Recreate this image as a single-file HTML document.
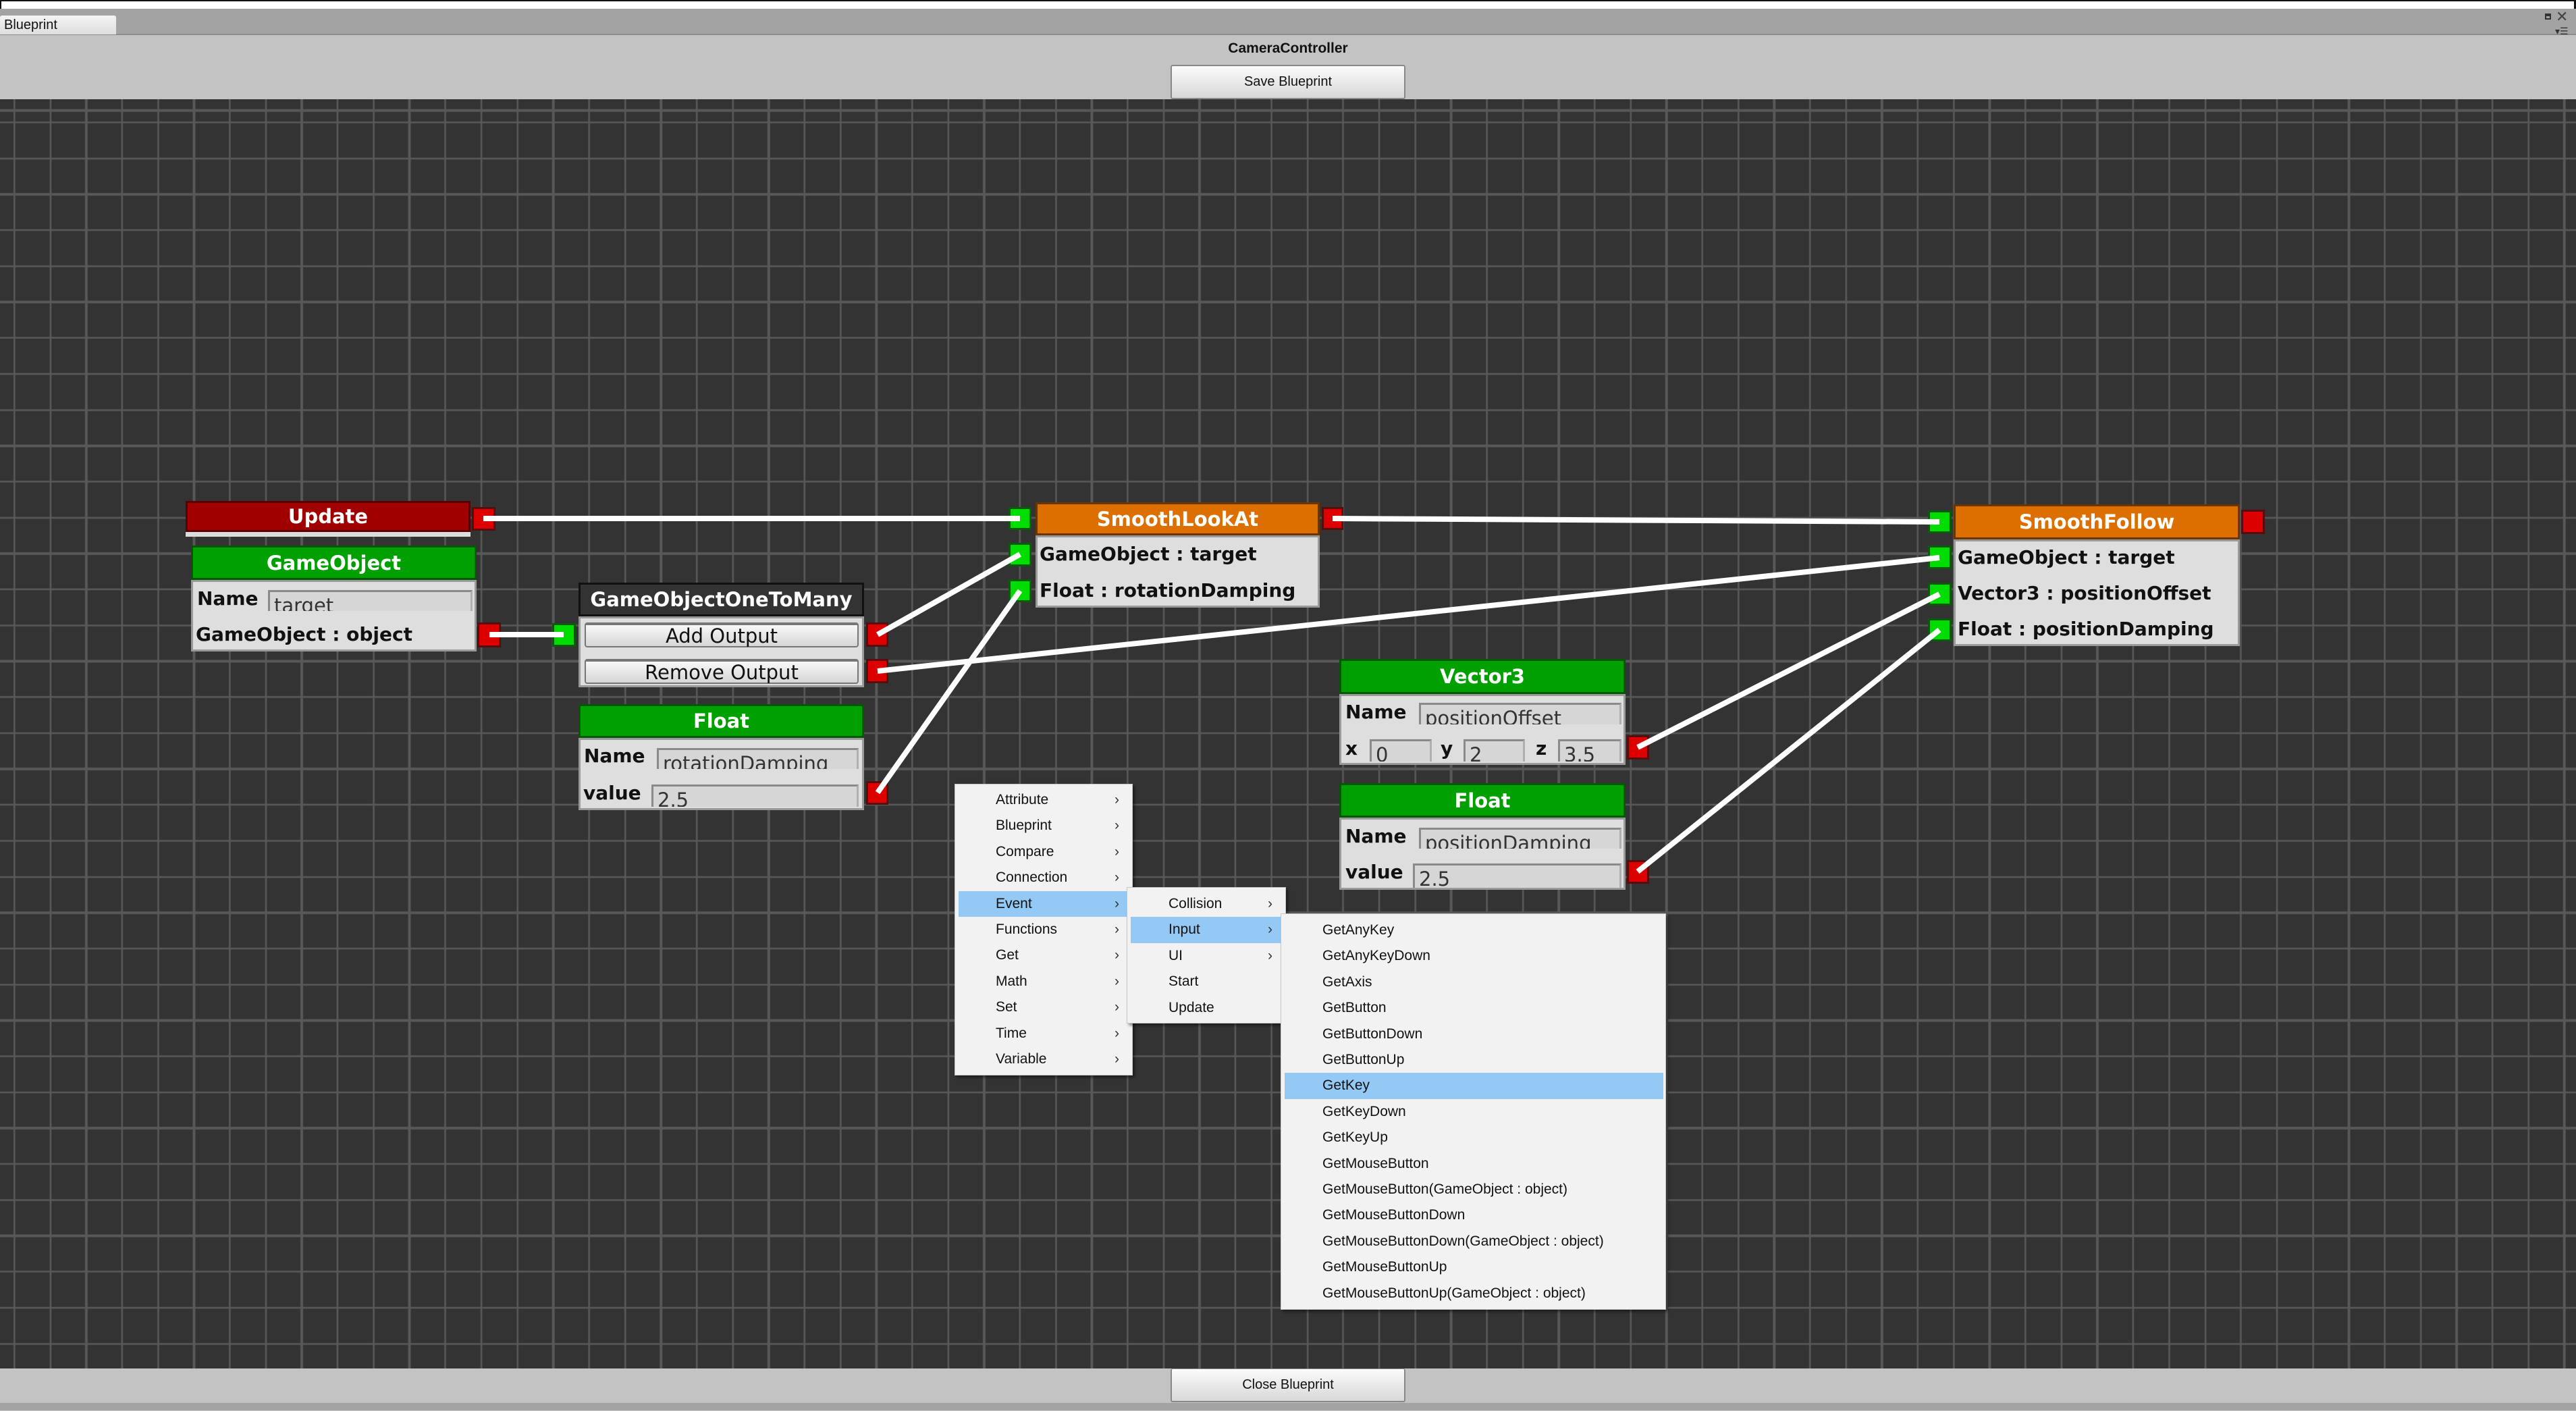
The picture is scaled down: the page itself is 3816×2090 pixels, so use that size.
<!DOCTYPE html>
<html><head><meta charset="utf-8"><style>
*{margin:0;padding:0;box-sizing:border-box}
body{width:3816px;height:2090px;position:relative;overflow:hidden;background:#c3c3c3;font-family:"DejaVu Sans",sans-serif}
.a{position:absolute}
#canvas{position:absolute;left:0;top:147px;width:3816px;height:1880px;background-color:#333;
background-image:repeating-linear-gradient(to right,#585858 0 3px,transparent 3px 53.2px),repeating-linear-gradient(to bottom,#585858 0 3px,transparent 3px 53.2px);
background-position:20px 0,0 33px}
.hdr{position:absolute;color:#fff;font:bold 29px "DejaVu Sans",sans-serif;display:flex;align-items:center;justify-content:center;border:3px solid;white-space:nowrap}
.g{background:#00a000;border-color:#005800}
.o{background:#dd6f00;border-color:#6b3500}
.bd{position:absolute;background:#dedede;border:3px solid #9a9a9a}
.lb{position:absolute;font:bold 28px "DejaVu Sans",sans-serif;color:#111;white-space:nowrap;line-height:34px}
.fd{position:absolute;background:#d6d6d6;border-top:3px solid #8a8a8a;border-left:3px solid #8a8a8a;border-right:3px solid #b0b0b0;overflow:hidden;font:29px "DejaVu Sans",sans-serif;color:#333;padding-left:6px;line-height:40px;white-space:nowrap}
.pg{position:absolute;background:#00dd00;border:3px solid #0b5a0b}
.pr{position:absolute;background:#dd0000;border:3px solid #5a0b0b}
.btn{position:absolute;background:linear-gradient(#f8f8f8,#d6d6d6);border:2px solid #777;border-top:4px solid #777;border-radius:4px;font:29px "DejaVu Sans",sans-serif;color:#111;display:flex;align-items:center;justify-content:center;white-space:nowrap}
.menu{position:absolute;background:#f2f2f2;border:1px solid #c8c8c8;box-shadow:3px 3px 4px rgba(0,0,0,.45)}
.mi{position:absolute;height:38.4px;font:21px "Liberation Sans",sans-serif;color:#111;line-height:38px;white-space:nowrap}
.hl{background:#94c9f5}
.ar{position:absolute;font:21px "Liberation Sans",sans-serif;color:#333;line-height:38px}
.tb{position:absolute;background:linear-gradient(#fbfbfb,#d8d8d8);border:2px solid #888;border-radius:3px;font:20px "Liberation Sans",sans-serif;color:#111;display:flex;align-items:center;justify-content:center}
</style></head><body>
<div class="a" style="left:0;top:0;width:3816px;height:13px;background:#fff;border-top:2px solid #111;border-left:2px solid #111;border-right:3px solid #111"></div>
<div class="a" style="left:0;top:13px;width:3816px;height:38px;background:#a3a3a3"></div>
<div class="a" style="left:0;top:50px;width:3816px;height:2px;background:#8c8c8c"></div>
<div class="a" style="left:0;top:23px;width:172px;height:28px;background:linear-gradient(#f4f4f4,#dedede);border-radius:3px 3px 0 0;font:20px 'Liberation Sans',sans-serif;line-height:28px;padding-left:6px;color:#111">Blueprint</div>
<div class="a" style="left:3770px;top:20px;width:9px;height:9px;border:2px solid #333;border-top-width:4px"></div>
<div class="a" style="left:3786px;top:12px;font:22px 'Liberation Sans';color:#444">✕</div>
<div class="a" style="left:3785px;top:38px;font:14px 'Liberation Sans';color:#333">▾☰</div>
<div class="a" style="left:0;top:60px;width:3816px;text-align:center;font:bold 21px 'Liberation Sans',sans-serif;color:#111">CameraController</div>
<div class="tb" style="left:1734px;top:96px;width:348px;height:51px">Save Blueprint</div>

<div id="canvas"></div>

<div class="hdr" style="left:275px;top:742px;width:422px;height:46px;background:#a00000;border-color:#5a0000">Update</div>
<div class="a" style="left:275px;top:788px;width:422px;height:7px;background:#dcdcdc"></div>
<div class="pr" style="left:699px;top:751px;width:35px;height:35px"></div>

<div class="hdr g" style="left:283px;top:808px;width:423px;height:51px">GameObject</div>
<div class="bd" style="left:283px;top:859px;width:423px;height:106px"></div>
<div class="lb" style="left:292px;top:870px">Name</div>
<div class="fd" style="left:397px;top:874px;width:303px;height:31px">target</div>
<div class="lb" style="left:290px;top:923px">GameObject : object</div>
<div class="pr" style="left:707px;top:922px;width:35px;height:37px"></div>

<div class="hdr" style="left:857px;top:863px;width:423px;height:50px;background:#333;border-color:#111">GameObjectOneToMany</div>
<div class="bd" style="left:857px;top:913px;width:423px;height:105px"></div>
<div class="btn" style="left:866px;top:922px;width:406px;height:37px">Add Output</div>
<div class="btn" style="left:866px;top:976px;width:406px;height:37px">Remove Output</div>
<div class="pg" style="left:818px;top:923px;width:35px;height:35px"></div>
<div class="pr" style="left:1283px;top:922px;width:33px;height:36px"></div>
<div class="pr" style="left:1283px;top:976px;width:33px;height:36px"></div>

<div class="hdr g" style="left:857px;top:1043px;width:423px;height:50px">Float</div>
<div class="bd" style="left:857px;top:1093px;width:423px;height:107px"></div>
<div class="lb" style="left:865px;top:1103px">Name</div>
<div class="fd" style="left:973px;top:1108px;width:299px;height:31px">rotationDamping</div>
<div class="lb" style="left:864px;top:1158px">value</div>
<div class="fd" style="left:965px;top:1162px;width:307px;height:33px">2.5</div>
<div class="pr" style="left:1283px;top:1157px;width:33px;height:35px"></div>

<div class="hdr o" style="left:1534px;top:744px;width:421px;height:49px">SmoothLookAt</div>
<div class="bd" style="left:1534px;top:793px;width:421px;height:107px"></div>
<div class="lb" style="left:1540px;top:804px">GameObject : target</div>
<div class="lb" style="left:1540px;top:858px">Float : rotationDamping</div>
<div class="pg" style="left:1494px;top:751px;width:34px;height:34px"></div>
<div class="pg" style="left:1494px;top:804px;width:34px;height:35px"></div>
<div class="pg" style="left:1494px;top:858px;width:34px;height:34px"></div>
<div class="pr" style="left:1958px;top:751px;width:32px;height:34px"></div>

<div class="hdr o" style="left:2894px;top:747px;width:424px;height:52px">SmoothFollow</div>
<div class="bd" style="left:2894px;top:799px;width:424px;height:158px"></div>
<div class="lb" style="left:2900px;top:809px">GameObject : target</div>
<div class="lb" style="left:2900px;top:862px">Vector3 : positionOffset</div>
<div class="lb" style="left:2900px;top:915px">Float : positionDamping</div>
<div class="pg" style="left:2856px;top:756px;width:35px;height:34px"></div>
<div class="pg" style="left:2856px;top:808px;width:35px;height:35px"></div>
<div class="pg" style="left:2856px;top:863px;width:35px;height:34px"></div>
<div class="pg" style="left:2856px;top:916px;width:35px;height:34px"></div>
<div class="pr" style="left:3320px;top:755px;width:35px;height:36px"></div>

<div class="hdr g" style="left:1984px;top:976px;width:424px;height:52px">Vector3</div>
<div class="bd" style="left:1984px;top:1028px;width:424px;height:105px"></div>
<div class="lb" style="left:1993px;top:1038px">Name</div>
<div class="fd" style="left:2102px;top:1041px;width:300px;height:32px">positionOffset</div>
<div class="lb" style="left:1993px;top:1092px">x</div>
<div class="fd" style="left:2029px;top:1095px;width:92px;height:33px">0</div>
<div class="lb" style="left:2134px;top:1092px">y</div>
<div class="fd" style="left:2168px;top:1095px;width:91px;height:33px">2</div>
<div class="lb" style="left:2275px;top:1092px">z</div>
<div class="fd" style="left:2308px;top:1095px;width:94px;height:33px">3.5</div>
<div class="pr" style="left:2410px;top:1089px;width:33px;height:36px"></div>

<div class="hdr g" style="left:1984px;top:1160px;width:424px;height:51px">Float</div>
<div class="bd" style="left:1984px;top:1211px;width:424px;height:107px"></div>
<div class="lb" style="left:1993px;top:1222px">Name</div>
<div class="fd" style="left:2102px;top:1226px;width:300px;height:31px">positionDamping</div>
<div class="lb" style="left:1993px;top:1275px">value</div>
<div class="fd" style="left:2093px;top:1279px;width:309px;height:36px">2.5</div>
<div class="pr" style="left:2410px;top:1274px;width:33px;height:35px"></div>

<svg class="a" style="left:0;top:0" width="3816" height="2090">
<g stroke="#fff" stroke-width="8" stroke-linecap="butt">
<line x1="716" y1="768" x2="1511" y2="768"/>
<line x1="725" y1="940" x2="835" y2="940"/>
<line x1="1300" y1="940" x2="1511" y2="821"/>
<line x1="1300" y1="994" x2="2873" y2="826"/>
<line x1="1300" y1="1174" x2="1511" y2="875"/>
<line x1="1974" y1="768" x2="2873" y2="773"/>
<line x1="2426" y1="1107" x2="2873" y2="880"/>
<line x1="2426" y1="1291" x2="2873" y2="933"/>
</g></svg>

<div class="menu" style="left:1414px;top:1161px;width:264px;height:432px">
<div class="mi" style="left:0;top:4px;width:262px;padding-left:60px">Attribute</div>
<div class="mi" style="left:0;top:42.4px;width:262px;padding-left:60px">Blueprint</div>
<div class="mi" style="left:0;top:80.8px;width:262px;padding-left:60px">Compare</div>
<div class="mi" style="left:0;top:119.2px;width:262px;padding-left:60px">Connection</div>
<div class="mi hl" style="left:5px;top:157.6px;width:250px;padding-left:55px">Event</div>
<div class="mi" style="left:0;top:196px;width:262px;padding-left:60px">Functions</div>
<div class="mi" style="left:0;top:234.4px;width:262px;padding-left:60px">Get</div>
<div class="mi" style="left:0;top:272.8px;width:262px;padding-left:60px">Math</div>
<div class="mi" style="left:0;top:311.2px;width:262px;padding-left:60px">Set</div>
<div class="mi" style="left:0;top:349.6px;width:262px;padding-left:60px">Time</div>
<div class="mi" style="left:0;top:388px;width:262px;padding-left:60px">Variable</div>
<div class="ar" style="left:236px;top:4px">›</div><div class="ar" style="left:236px;top:42.4px">›</div><div class="ar" style="left:236px;top:80.8px">›</div><div class="ar" style="left:236px;top:119.2px">›</div><div class="ar" style="left:236px;top:157.6px">›</div><div class="ar" style="left:236px;top:196px">›</div><div class="ar" style="left:236px;top:234.4px">›</div><div class="ar" style="left:236px;top:272.8px">›</div><div class="ar" style="left:236px;top:311.2px">›</div><div class="ar" style="left:236px;top:349.6px">›</div><div class="ar" style="left:236px;top:388px">›</div>
</div>
<div class="menu" style="left:1669px;top:1314px;width:236px;height:202px">
<div class="mi" style="left:0;top:5px;width:234px;padding-left:61px">Collision</div>
<div class="mi hl" style="left:5px;top:43.4px;width:222px;padding-left:56px">Input</div>
<div class="mi" style="left:0;top:81.8px;width:234px;padding-left:61px">UI</div>
<div class="mi" style="left:0;top:120.2px;width:234px;padding-left:61px">Start</div>
<div class="mi" style="left:0;top:158.6px;width:234px;padding-left:61px">Update</div>
<div class="ar" style="left:208px;top:5px">›</div><div class="ar" style="left:208px;top:43.4px">›</div><div class="ar" style="left:208px;top:81.8px">›</div>
</div>
<div class="menu" style="left:1897px;top:1353px;width:571px;height:587px">
<div class="mi" style="left:0;top:5px;padding-left:61px">GetAnyKey</div>
<div class="mi" style="left:0;top:43.4px;padding-left:61px">GetAnyKeyDown</div>
<div class="mi" style="left:0;top:81.8px;padding-left:61px">GetAxis</div>
<div class="mi" style="left:0;top:120.2px;padding-left:61px">GetButton</div>
<div class="mi" style="left:0;top:158.6px;padding-left:61px">GetButtonDown</div>
<div class="mi" style="left:0;top:197px;padding-left:61px">GetButtonUp</div>
<div class="mi hl" style="left:5px;top:235.4px;width:561px;padding-left:56px">GetKey</div>
<div class="mi" style="left:0;top:273.8px;padding-left:61px">GetKeyDown</div>
<div class="mi" style="left:0;top:312.2px;padding-left:61px">GetKeyUp</div>
<div class="mi" style="left:0;top:350.6px;padding-left:61px">GetMouseButton</div>
<div class="mi" style="left:0;top:389px;padding-left:61px">GetMouseButton(GameObject : object)</div>
<div class="mi" style="left:0;top:427.4px;padding-left:61px">GetMouseButtonDown</div>
<div class="mi" style="left:0;top:465.8px;padding-left:61px">GetMouseButtonDown(GameObject : object)</div>
<div class="mi" style="left:0;top:504.2px;padding-left:61px">GetMouseButtonUp</div>
<div class="mi" style="left:0;top:542.6px;padding-left:61px">GetMouseButtonUp(GameObject : object)</div>
</div>

<div class="tb" style="left:1734px;top:2027px;width:348px;height:50px;border-top-width:1px">Close Blueprint</div>
<div class="a" style="left:0;top:2078px;width:3816px;height:11px;background:#a3a3a3"></div>
</body></html>
